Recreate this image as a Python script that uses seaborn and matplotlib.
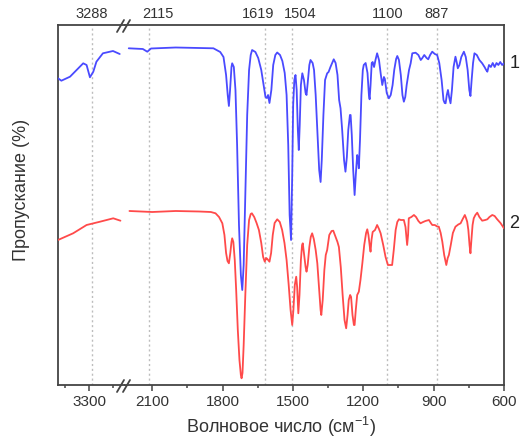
import matplotlib
matplotlib.use("Agg")
import matplotlib.pyplot as plt
import seaborn as sns
import pandas as pd
from matplotlib.lines import Line2D

# ---------------- data ----------------
# spectrum 1 (blue), high-wavenumber window
s1_hi_wn = [3430, 3416, 3380, 3325, 3311, 3297, 3283, 3270, 3243, 3201, 3173]
s1_hi_t = [306.7, 304.3, 308.3, 321.7, 320, 307.7, 313.3, 323.3, 331.7, 334, 331]
# spectrum 1 (blue), 2200-600 window
s1_lo_wn = [2200, 2140, 2121, 2105, 2000, 1900, 1839, 1810, 1796, 1785, 1778, 1773, 1768, 1762,
            1759, 1752, 1745, 1738, 1730, 1722, 1716, 1710, 1703, 1695, 1687, 1680, 1674, 1660,
            1648, 1635, 1625, 1617, 1611, 1606, 1600, 1592, 1584, 1575, 1567, 1555, 1545, 1535,
            1527, 1520, 1514, 1508, 1503, 1499, 1494, 1489, 1484, 1479, 1475, 1471, 1466, 1460,
            1453, 1446, 1442, 1437, 1430, 1425, 1416, 1410, 1403, 1395, 1388, 1382, 1377, 1370,
            1363, 1354, 1348, 1340, 1326, 1318, 1310, 1303, 1297, 1290, 1282, 1276, 1270, 1264,
            1257, 1254, 1249, 1243, 1237, 1232, 1226, 1222, 1219, 1214, 1208, 1202, 1198, 1190,
            1182, 1176, 1173, 1169, 1164, 1160, 1154, 1148, 1141, 1133, 1125, 1119, 1112, 1108,
            1100, 1091, 1083, 1075, 1068, 1060, 1055, 1048, 1040, 1033, 1027, 1021, 1015, 1005,
            998, 991, 977, 965, 955, 949, 940, 930, 923, 915, 906, 895, 885, 876, 866, 858, 853,
            849, 844, 839, 834, 828, 822, 815, 807, 801, 797, 790, 782, 771, 763, 755, 748, 743,
            738, 732, 726, 716, 705, 693, 683, 676, 671, 664, 656, 648, 640, 632, 624, 616, 608, 600]
s1_lo_t = [336.7, 336, 333.3, 336.5, 337.5, 337, 336.7, 333, 328, 310, 290, 279, 295, 318,
           321.7, 318, 295, 240, 160, 110, 95, 120, 190, 270, 315, 330, 335, 333,
           327, 315, 300, 288, 287, 290, 282, 295, 320, 330, 332.5, 330, 324, 312,
           290, 240, 170, 145, 210, 280, 305, 310, 295, 255, 235, 260, 300, 311.7,
           305, 292, 290, 302, 320, 325, 322, 315, 290, 250, 215, 203, 225, 270,
           305, 311.7, 313, 318, 325.7, 322, 310, 285, 276.7, 255, 225, 213.3, 228, 255,
           270, 270, 250, 215, 190, 210, 230, 225, 216.7, 245, 290, 315, 320, 322,
           312, 290, 285.7, 300, 322, 323, 318, 325, 331.7, 325, 310, 300, 308, 306,
           292, 286.7, 290, 300, 315, 326, 329, 325, 310, 290, 283.3, 288, 300, 315,
           321.7, 331.7, 332.3, 330, 325, 326.7, 330, 327, 325.7, 330, 333.3, 331, 330, 322, 305, 285, 282,
           281.7, 290, 295, 288, 281.7, 295, 318, 328.3, 322, 316.7, 320, 328, 333.3, 328, 315, 295, 289,
           305, 322, 331.7, 330, 325, 321.7, 318, 315, 313.3, 320, 318, 322, 318, 322, 320, 323, 320, 321.7]

# spectrum 2 (red), high-wavenumber window
s2_hi_wn = [3430, 3416, 3367, 3311, 3255, 3200, 3170]
s2_hi_t = [145, 146.5, 151.7, 160, 163.3, 166.7, 164.3]
# spectrum 2 (red), 2200-600 window
s2_lo_wn = [2197, 2100, 2000, 1900, 1850, 1830, 1815, 1801, 1792, 1785, 1779, 1773, 1767, 1762,
            1759, 1754, 1748, 1742, 1735, 1728, 1722, 1719, 1715, 1710, 1703, 1695, 1687, 1680,
            1675, 1665, 1655, 1645, 1635, 1627, 1620, 1614, 1609, 1600, 1593, 1586, 1578, 1567,
            1556, 1546, 1536, 1527, 1518, 1510, 1503, 1498, 1492, 1486, 1482, 1477, 1472, 1466,
            1461, 1458, 1453, 1446, 1442, 1437, 1430, 1424, 1418, 1411, 1403, 1396, 1388, 1382,
            1379, 1373, 1366, 1360, 1354, 1345, 1335, 1328, 1318, 1310, 1304, 1296, 1288, 1280,
            1273, 1267, 1262, 1256, 1252, 1246, 1240, 1237, 1232, 1226, 1219, 1212, 1204, 1196,
            1188, 1183, 1178, 1172, 1169, 1165, 1160, 1150, 1141, 1133, 1126, 1115, 1105, 1095,
            1091, 1077, 1070, 1062, 1055, 1048, 1040, 1027, 1020, 1013, 1009, 1006, 995, 984,
            975, 965, 956, 945, 935, 920, 912, 906, 895, 885, 878, 870, 863, 855, 846, 840, 835,
            827, 818, 807, 795, 785, 776, 767, 762, 757, 752, 747, 743, 739, 734, 729, 722, 714,
            705, 693, 680, 671, 662, 650, 640, 629, 615, 600]
s2_lo_t = [174, 173, 174, 173.5, 173, 171.7, 168, 161.7, 150, 132, 124, 121.7, 132, 143,
           146.7, 143, 125, 95, 55, 25, 10, 6.7, 12, 40, 90, 140, 165, 171,
           171.7, 168, 162, 155, 142, 128, 123.3, 127, 126, 123.3, 132, 150, 162, 165.7,
           163, 155, 142, 125, 100, 75, 60, 75, 100, 108.3, 98, 71.7, 90, 125,
           140, 141.7, 132, 118, 113.3, 120, 138, 148, 151.7, 146, 135, 121.7, 95, 75,
           70, 85, 115, 130, 135, 150, 154, 154.3, 148, 143, 138, 118, 90, 65,
           56.7, 70, 85, 90, 88, 70, 60, 60, 75, 90, 93.3, 105, 121.7, 140,
           152, 155.7, 150, 138, 133.3, 145, 153, 155, 160, 156, 151.7, 140, 128, 120,
           120, 120, 135, 155, 163, 165.7, 165, 165, 158, 140, 150, 166.7, 168, 170,
           168, 164, 161.7, 163, 164, 165, 162, 160, 160, 158.5, 158.3, 152, 143.3, 130, 120, 127, 130,
           140, 152, 158.3, 160.5, 161.7, 166, 170, 167, 163.3, 155, 140, 131.7, 145, 160, 166.7, 170, 172.3,
           168, 164.3, 165, 165.7, 168, 170, 169, 165.7, 162, 156.7]

marker_wn = [3288, 2115, 1619, 1504, 1100, 887]
marker_labels = ["3288", "2115", "1619", "1504", "1100", "887"]
left_ticks = [3300]
left_minor = [3400, 3200]
right_ticks = [2100, 1800, 1500, 1200, 900, 600]
right_minor = [1950, 1650, 1350, 1050, 750]
curve_labels = ["1", "2"]
curve_label_y = [322, 162]

# ---------------- style ----------------
sns.set_style("white")
plt.rcParams["font.family"] = ["Liberation Sans", "DejaVu Sans"]
plt.rcParams["mathtext.default"] = "regular"

W, H = 520, 448
fig = plt.figure(figsize=(W / 100, H / 100), dpi=100)

def fx(px):
    return px / W

def fy(py):
    return 1 - py / H

ax_top, ax_bot = 25, 385
ax_l = fig.add_axes([fx(58), fy(ax_bot), fx(125) - fx(58), fy(ax_top) - fy(ax_bot)])
ax_r = fig.add_axes([fx(125), fy(ax_bot), fx(504) - fx(125), fy(ax_top) - fy(ax_bot)])

blue = "#4a4aff"
red = "#ff4a4a"
frame = "#444444"
grid_c = "#bdbdbd"

df1h = pd.DataFrame({"wn": s1_hi_wn, "t": s1_hi_t})
df1l = pd.DataFrame({"wn": s1_lo_wn, "t": s1_lo_t})
df2h = pd.DataFrame({"wn": s2_hi_wn, "t": s2_hi_t})
df2l = pd.DataFrame({"wn": s2_lo_wn, "t": s2_lo_t})

for ax, d1, d2 in [(ax_l, df1h, df2h), (ax_r, df1l, df2l)]:
    sns.lineplot(data=d1, x="wn", y="t", ax=ax, color=blue, lw=1.3, estimator=None, sort=False, legend=False, zorder=3)
    sns.lineplot(data=d2, x="wn", y="t", ax=ax, color=red, lw=1.3, estimator=None, sort=False, legend=False, zorder=3)
    ax.set_ylim(0, 360)
    ax.set_yticks([])
    ax.set_xlabel("")
    ax.set_ylabel("")
    for s in ax.spines.values():
        s.set_color(frame)
        s.set_linewidth(1.3)
    ax.tick_params(axis="x", which="major", direction="out", length=4.5, width=1.1,
                   color=frame, labelsize=11, labelcolor="#333333", pad=3)
    ax.tick_params(axis="x", which="minor", direction="out", length=2.5, width=1.1, color=frame)
    ax.tick_params(axis="x", which="both", top=False, bottom=True)

ax_l.set_xlim(3430, 3151)
ax_r.set_xlim(2216, 600)
ax_l.spines["right"].set_visible(False)
ax_r.spines["left"].set_visible(False)
ax_l.set_xticks(left_ticks)
ax_l.set_xticks(left_minor, minor=True)
ax_r.set_xticks(right_ticks)
ax_r.set_xticks(right_minor, minor=True)

# marker lines and labels (label nudges in pixels so neighbours do not collide)
label_nudge_px = [0, 9, -7, 8, 1, 0]
for wn, lab, dx in zip(marker_wn, marker_labels, label_nudge_px):
    ax = ax_l if wn > 2500 else ax_r
    ax.axvline(wn, color=grid_c, lw=1.0, ls=(0, (1.5, 2)), zorder=1)
    ax.annotate(lab, xy=(wn, 1.0), xycoords=("data", "axes fraction"),
                xytext=(dx * 0.72, 3), textcoords="offset points", ha="center", va="bottom",
                fontsize=10.5, color="#333333", annotation_clip=False)

# curve numbers on the right
for lab, yv in zip(curve_labels, curve_label_y):
    ax_r.annotate(lab, xy=(1.0, yv), xycoords=("axes fraction", "data"),
                  xytext=(4, 0), textcoords="offset points", ha="left", va="center",
                  fontsize=13, color="#222222", annotation_clip=False)

# axis break marks
for yc in (ax_top + 1, ax_bot + 1):
    for xc in (120.5, 126.5):
        fig.add_artist(Line2D([fx(xc - 3.5), fx(xc + 3.5)], [fy(yc + 6), fy(yc - 6)],
                              color=frame, lw=1.3))

fig.text(fx(281), fy(427), "Волновое число (см$^{-1}$)", ha="center", va="center",
         fontsize=13, color="#333333")
fig.text(fx(22), fy(190), "Пропускание (%)", ha="center", va="center", rotation=90,
         fontsize=13, color="#333333")

fig.savefig("out.png", dpi=100)
